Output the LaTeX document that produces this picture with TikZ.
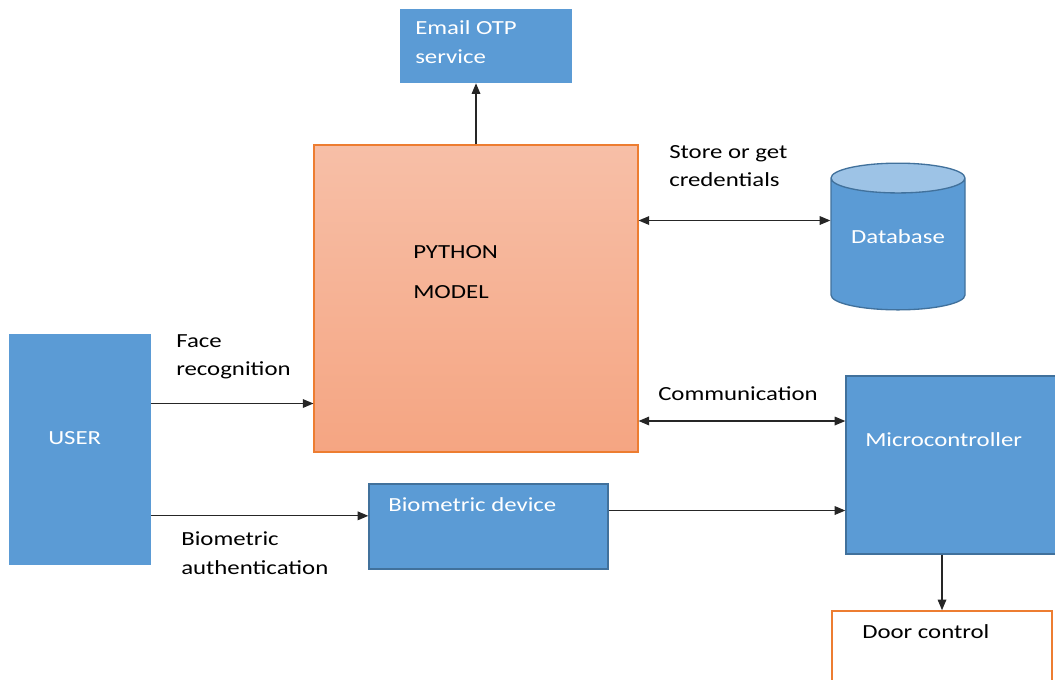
\documentclass[tikz,border=0pt]{standalone}
\usepackage{fontspec}
\setmainfont{Carlito}[FakeStretch=1.24]
\usetikzlibrary{arrows.meta,positioning,fit,shapes.geometric}
\definecolor{boxblue}{HTML}{5B9BD5}
\definecolor{edgeblue}{HTML}{41719C}
\definecolor{capblue}{HTML}{9DC3E6}
\definecolor{edgeorange}{HTML}{ED7D31}
\definecolor{pytop}{HTML}{F7BFA7}
\definecolor{pybot}{HTML}{F5A582}

\begin{document}
\begin{tikzpicture}[
  x=0.75pt, y=-0.75pt,
  font=\fontsize{15}{21.4}\selectfont,
  blk/.style={fill=boxblue, inner sep=0pt},
  blkedge/.style={blk, draw=edgeblue, line width=1pt},
  txt/.style={inner sep=0pt, anchor=west, align=left},
  wtxt/.style={txt, text=white},
  flow/.style={-{Triangle[length=8pt, width=6.5pt]}, line width=0.9pt, black!85},
  both/.style={flow, {Triangle[length=8pt, width=6.5pt]}-{Triangle[length=8pt, width=6.5pt]}},
]
\useasboundingbox (0,0) rectangle (1055,679);

% ---- boxes --------------------------------------------------------------
\node[blk, fit={(400,9) (572,83)}] (otp) {};
\node[wtxt] (otptxt) at (415,42) {Email OTP\\service};

\node[fit={(314,145) (638,452)}, inner sep=0pt, top color=pytop,
      bottom color=pybot, draw=edgeorange, line width=0.8pt] (py) {};
\node[txt] (pytxt) at (413,272) {PYTHON\\[0.6em]MODEL};

\node[cylinder, shape border rotate=90, aspect=0.29, draw=edgeblue,
      line width=1pt, cylinder uses custom fill, cylinder body fill=boxblue,
      cylinder end fill=capblue, minimum width=100.5pt, minimum height=110pt,
      anchor=shape center] (db) at (898,236.5) {\phantom{Database}};
\node[text=white, inner sep=0pt] (dbtxt) at (db.shape center) {Database};

\node[blk, fit={(9,334) (151,565)}] (user) {};
\node[wtxt] (usertxt) at (48,438) {USER};

\node[blkedge, fit={(369,484) (608,569)}] (bio) {};
\node[wtxt] (biotxt) at (388,505) {Biometric device};

\node[blkedge, fit={(846,376) (1062,554)}] (mc) {};
\node[wtxt] (mctxt) at (865,440) {Microcontroller};

\node[fit={(832,611) (1052,692)}, inner sep=0pt, draw=edgeorange,
      line width=1.2pt] (door) {};
\node[txt] (doortxt) at (862,632) {Door control};

% ---- connectors ---------------------------------------------------------
\draw[flow] (py.north) -- (py.north |- otp.south);
\draw[both] ([yshift=12pt]db.shape center -| py.east)
  -- ([yshift=12pt]db.shape center -| db.west);
\draw[both] ([yshift=33pt]mc.west -| py.east) -- ([yshift=33pt]mc.west);
\draw[flow] ([yshift=34.5pt]user.east) -- ([yshift=34.5pt]user.east -| py.west);
\draw[flow] ([yshift=8pt]bio.west -| user.east) -- ([yshift=8pt]bio.west);
\draw[flow] ([yshift=12pt]bio.east) -- ([yshift=12pt]bio.east -| mc.west);
\draw[flow] (door.north |- mc.south) -- (door.north);

% ---- labels -------------------------------------------------------------
\node[txt] (lblstore) at (669,166) {Store or get\\credentials};
\node[txt] (lblface)  at (176,357) {Face\\recognition};
\node[txt] (lblcomm)  at (658,394) {Communication};
\node[txt] (lblbio)   at (181,553) {Biometric\\authentication};

\end{tikzpicture}
\end{document}
